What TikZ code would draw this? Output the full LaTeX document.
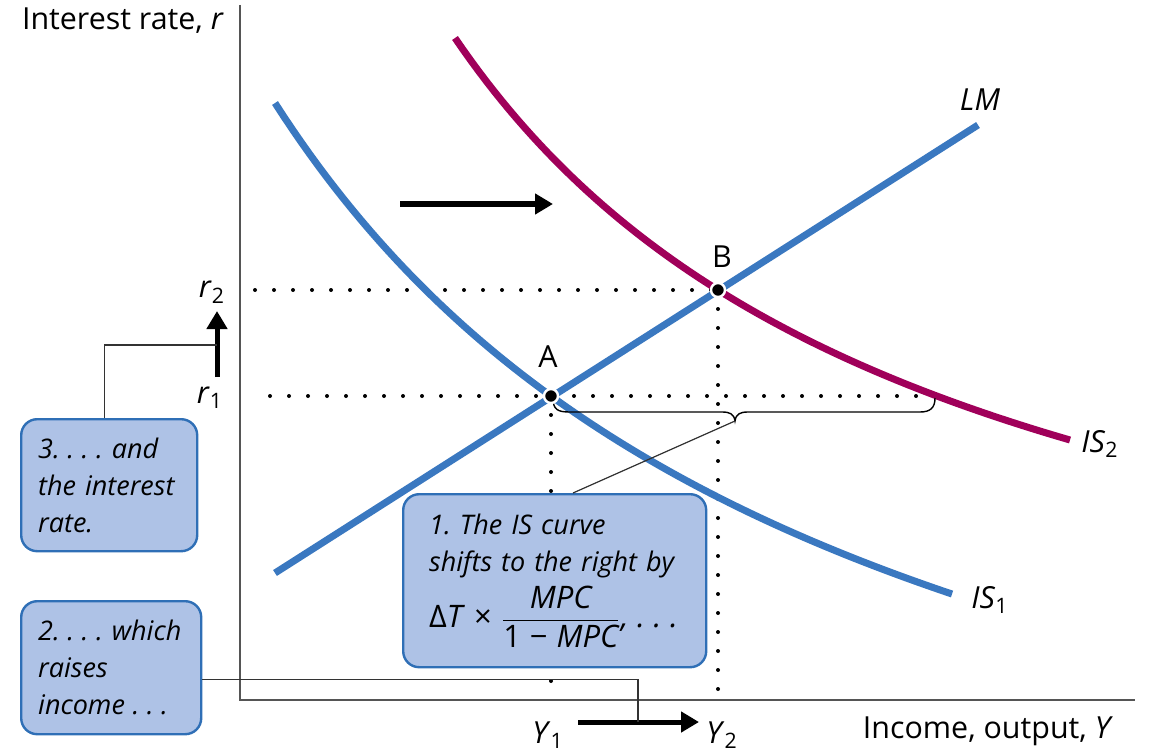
\documentclass[tikz,border=0pt]{standalone}
\usepackage{amsmath}
\usepackage{fontspec}
\setmainfont{Open Sans}
\usetikzlibrary{arrows.meta,calc}
\definecolor{isblue}{HTML}{3A78C0}
\definecolor{ismag}{HTML}{A0005A}
\definecolor{boxfill}{HTML}{AEC2E6}
\definecolor{boxline}{HTML}{2F6FB6}
\definecolor{axisgray}{HTML}{555555}
\newcommand\sdots{\kern0.28em.\kern0.28em.\kern0.28em.}
\frenchspacing
\tikzset{
  lbl/.style={font=\fontsize{15.2}{18}\selectfont},
  curveblue/.style={isblue,line width=3.5pt},
  curvemag/.style={ismag,line width=3.5pt},
  dotline/.style={line width=2pt,line cap=round,dash pattern=on 0pt off 9.5pt},
  boxnode/.style={draw=boxline,fill=boxfill,line width=1.2pt,rounded corners=8pt,
    anchor=north west,align=left,font=\fontsize{13.5}{18.5}\selectfont\itshape,inner ysep=2pt},
  thin/.style={line width=0.6pt,black!80},
  bigarrow/.style={line width=3pt,-{Triangle[length=9pt,width=10pt]}},
  eqdot/.style={circle,fill=black,draw=white,line width=1.2pt,inner sep=0pt,minimum size=7pt}
}
\begin{document}
\begin{tikzpicture}[x=0.5pt,y=-0.5pt]
\useasboundingbox (0,0) rectangle (1154,754);
% axes
\coordinate (O) at (240,700);
\coordinate (ytop) at (240,5);
\coordinate (xend) at (1135,700);
\draw[axisgray,line width=0.8pt] (ytop) -- (O) -- (xend);
\node[lbl,anchor=base west] (ylabel) at (15,30) {Interest rate, \textit{r}};
\node[lbl,anchor=base east] (xlabel) at (1120,738) {Income, output, \textit{Y}};
% points
\coordinate (A) at (551,396);
\coordinate (B) at (718,290);
% dotted guides
\draw[dotline] (255,290) -- (B);
\draw[dotline] (270,396) -- (935,396);
\draw[dotline] (A) -- (A |- O);
\draw[dotline] (B) -- (B |- O);
% curves
\draw[curveblue] (275,573) -- (978,125);
\draw[curveblue] plot[domain=275:952,samples=80] (\x,{1020.9-5402.6/((\x+313.6)/100)});
\draw[curvemag] plot[domain=455:1070,samples=80] (\x,{762-3566.4/((\x+37.6)/100)});
% brace
\draw[line width=0.7pt] (553,398) .. controls (553,410) and (558,412) .. (570,412) -- (722,412)
  .. controls (730,412) and (734,414) .. (735,421) .. controls (736,414) and (740,412) .. (748,412)
  -- (920,412) .. controls (930,412) and (935,408) .. (935,398);
\coordinate (bt) at (735,421);
% equilibrium dots
\node[eqdot] (dA) at (A) {};
\node[eqdot] (dB) at (B) {};
\node[lbl] (lA) at (548,357) {A};
\node[lbl] (lB) at (722,257) {B};
% curve labels
\node[lbl] (lLM) at (980,100) {\textit{LM}};
\node[lbl] (lIS1) at (990,600) {\textit{IS}$_{\text{1}}$};
\node[lbl] (lIS2) at (1100,444) {\textit{IS}$_{\text{2}}$};
% axis labels
\node[lbl] (r2) at (212,292) {\textit{r}$_{\text{2}}$};
\node[lbl] (r1) at (210,398) {\textit{r}$_{\text{1}}$};
\node[lbl] (Y1) at (548,735) {\textit{Y}$_{\text{1}}$};
\node[lbl] (Y2) at (722,735) {\textit{Y}$_{\text{2}}$};
% arrows
\coordinate (ta1) at (400,204);
\coordinate (ta2) at (553,204);
\draw[bigarrow] (ta1) -- (ta2);
\coordinate (ra1) at (217,377);
\coordinate (ra2) at (217,311);
\draw[bigarrow,line width=2.5pt] (ra1) -- (ra2);
\coordinate (ya1) at (578,722);
\coordinate (ya2) at (699,722);
\draw[bigarrow,line width=2.5pt] (ya1) -- (ya2);
\coordinate (ym) at (638,722);
\coordinate (rm) at (217,345);
% boxes
\node[boxnode,inner xsep=8.5pt,text width=71pt,minimum height=66pt] (box3) at (20,418)
  {3.\sdots\ and\\the interest\\rate.};
\node[boxnode,inner xsep=8.5pt,text width=73pt,minimum height=66.5pt] (box2) at (20,600)
  {2.\sdots\ which\\raises\\income\sdots};
\node[boxnode,inner xsep=13pt,text width=125.5pt,minimum height=86.5pt] (box1) at (402,493)
  {1. The IS curve\\shifts to the right by\\[3pt]
   \makebox[0pt][l]{\fontsize{15.5}{19}\selectfont\upshape Δ\textit{T} × $\dfrac{\text{\itshape MPC}}{\text{1 − \itshape MPC}}$\itshape,\sdots}};
% connectors
\draw[thin] (bt) -- ($(box1.north west)+(171,0)$);
\draw[thin] ([xshift=-2.5pt]box3.north) |- (rm);
\draw[thin] ([yshift=-5.75pt]box2.east) -| (ym);
\end{tikzpicture}
\end{document}
